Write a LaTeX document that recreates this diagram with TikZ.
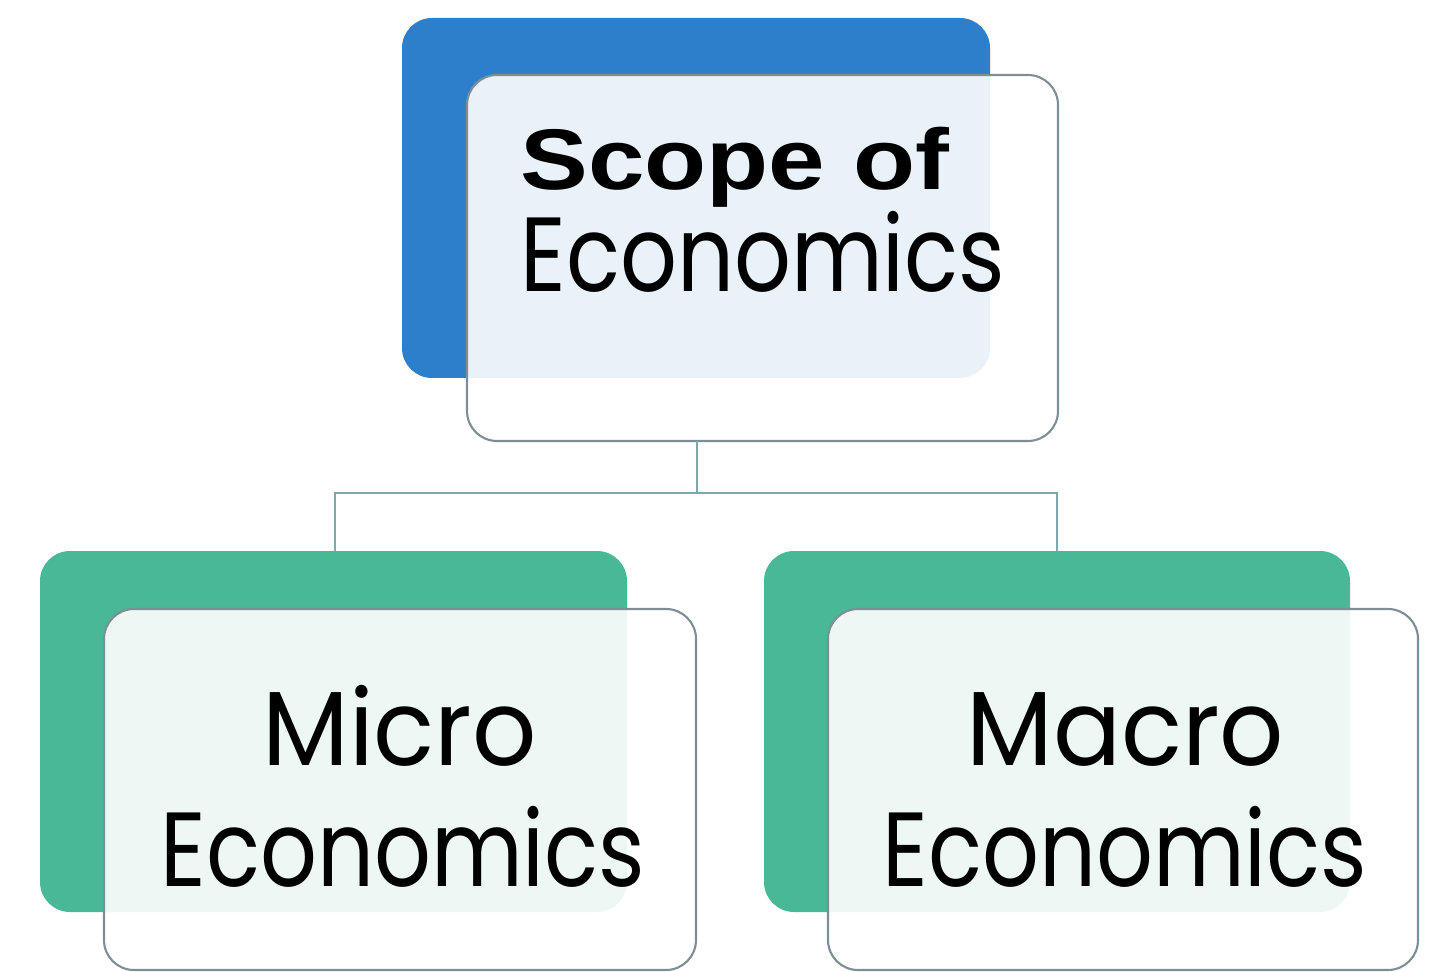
\documentclass[tikz,border=0pt]{standalone}
\usepackage{fontspec}
\usepackage{graphicx}
\setmainfont{Poppins}
\newfontfamily\boldsans{Liberation Sans}[BoldFont={* Bold}]
\definecolor{topblue}{HTML}{2E7FCB}
\definecolor{boxgreen}{HTML}{48B896}
\definecolor{frontedge}{HTML}{7E8E96}
\definecolor{linkcol}{HTML}{7FA8AE}
\begin{document}
\begin{tikzpicture}[x=0.02cm,y=-0.02cm,
  backbox/.style={rounded corners=0.6cm},
  frontbox/.style={draw=frontedge,line width=1.2pt,fill=white,fill opacity=0.9,rounded corners=0.6cm},
  link/.style={draw=linkcol,line width=1.2pt},
  labeltext/.style={anchor=base west,inner sep=0pt,font=\fontsize{60}{60}\selectfont},
  headtext/.style={anchor=base west,inner sep=0pt,font=\boldsans\bfseries\fontsize{49}{49}\selectfont}]
\useasboundingbox (0,0) rectangle (1429,972);
% top
\fill[topblue,backbox] (402,18) rectangle (990,378);
\draw[frontbox] (467,75) rectangle (1058,441);
\coordinate (topbot) at (697,441);
\node[headtext] (scope) at (520,190) {\scalebox{1.18}[1]{Scope of}};
\node[labeltext] (econ1) at (520,292) {\scalebox{0.845}[1]{Economics}};
% left
\fill[boxgreen,backbox] (40,551) rectangle (627,912);
\draw[frontbox] (104,609) rectangle (696,970);
\node[labeltext] (micro) at (262,765) {\scalebox{0.955}[1]{Micro}};
\node[labeltext] (econ2) at (160,886) {\scalebox{0.845}[1]{Economics}};
% right
\fill[boxgreen,backbox] (764,551) rectangle (1350,912);
\draw[frontbox] (828,609) rectangle (1418,970);
\node[labeltext] (macro) at (966,765) {\scalebox{0.955}[1]{Macro}};
\node[labeltext] (econ3) at (882,886) {\scalebox{0.845}[1]{Economics}};
% connectors
\coordinate (lefttop) at (335,551);
\coordinate (righttop) at (1057,551);
\draw[link] (topbot) -- (697,493) -| (lefttop);
\draw[link] (697,493) -| (righttop);
\end{tikzpicture}
\end{document}
